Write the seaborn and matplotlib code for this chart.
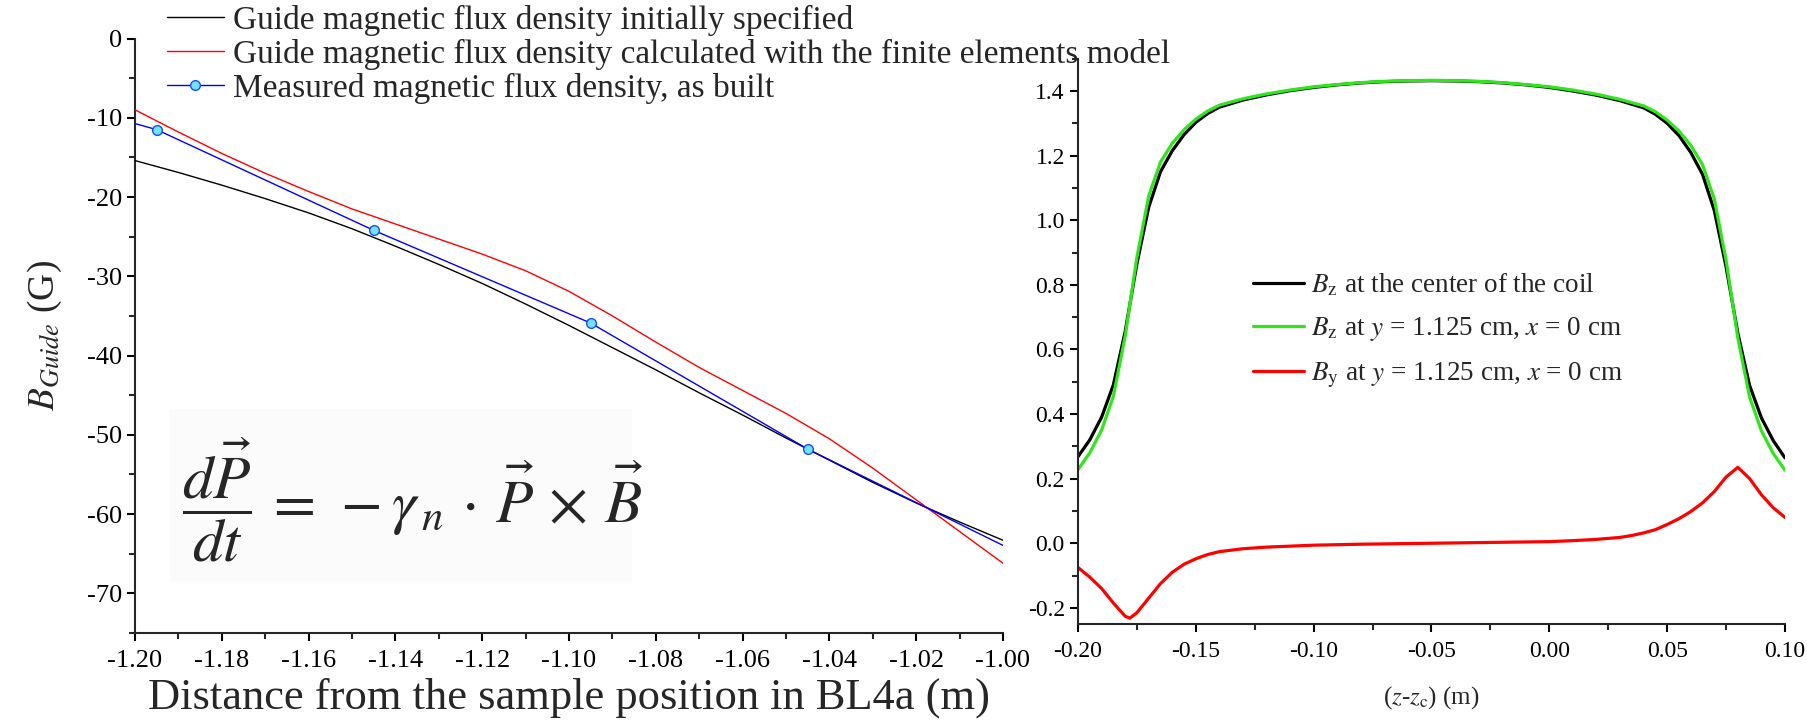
import matplotlib
matplotlib.use("Agg")
import numpy as np
import pandas as pd
import matplotlib.pyplot as plt
import seaborn as sns
from matplotlib.ticker import MultipleLocator, FormatStrFormatter
from matplotlib.patches import Rectangle

# ---- guide field along the beamline (left panel) ----
dist_spec = [-1.20, -1.19, -1.18, -1.17, -1.16, -1.15, -1.14, -1.13, -1.12, -1.11, -1.10,
             -1.09, -1.08, -1.07, -1.06, -1.05, -1.04, -1.03, -1.02, -1.01, -1.00]
b_spec = [-15.4, -16.9, -18.5, -20.2, -22.0, -24.0, -26.2, -28.5, -30.9, -33.5, -36.2,
          -39.0, -41.8, -44.7, -47.5, -50.4, -53.2, -56.0, -58.6, -61.0, -63.3]

dist_fem = [-1.20, -1.19, -1.18, -1.17, -1.16, -1.15, -1.14, -1.13, -1.12, -1.11, -1.10,
            -1.09, -1.08, -1.07, -1.06, -1.05, -1.04, -1.03, -1.02, -1.01, -1.00]
b_fem = [-9.0, -11.8, -14.5, -17.0, -19.3, -21.5, -23.4, -25.3, -27.2, -29.3, -31.9,
         -35.0, -38.3, -41.5, -44.4, -47.3, -50.5, -54.2, -58.2, -62.2, -66.2]

dist_meas = [-1.245, -1.195, -1.145, -1.095, -1.045, -0.995]
b_meas = [-3.8, -11.5, -24.2, -35.9, -51.8, -65.3]

# ---- coil field profile (right panel) ----
z_coil = [-0.200, -0.195, -0.190, -0.185, -0.180, -0.175, -0.170, -0.165, -0.160, -0.155,
          -0.150, -0.145, -0.140, -0.130, -0.120, -0.110, -0.100, -0.090, -0.080, -0.070,
          -0.060, -0.050, -0.040, -0.030, -0.020, -0.010, 0.000, 0.010, 0.020, 0.030,
          0.040, 0.045, 0.050, 0.055, 0.060, 0.065, 0.070, 0.075, 0.080, 0.085,
          0.090, 0.095, 0.100]
bz_center = [0.268, 0.320, 0.390, 0.490, 0.655, 0.865, 1.040, 1.150, 1.215, 1.265,
             1.303, 1.330, 1.350, 1.372, 1.388, 1.401, 1.411, 1.419, 1.425, 1.429,
             1.431, 1.432, 1.431, 1.429, 1.425, 1.419, 1.411, 1.400, 1.387, 1.370,
             1.348, 1.328, 1.300, 1.262, 1.210, 1.142, 1.030, 0.855, 0.650, 0.488,
             0.388, 0.318, 0.264]
bz_offaxis = [0.228, 0.280, 0.350, 0.455, 0.640, 0.885, 1.075, 1.180, 1.238, 1.280,
              1.313, 1.338, 1.356, 1.376, 1.391, 1.403, 1.413, 1.420, 1.426, 1.430,
              1.432, 1.433, 1.432, 1.430, 1.426, 1.420, 1.413, 1.403, 1.390, 1.374,
              1.354, 1.336, 1.310, 1.276, 1.232, 1.172, 1.066, 0.876, 0.635, 0.452,
              0.348, 0.278, 0.226]

z_by = [-0.200, -0.195, -0.190, -0.185, -0.180, -0.178, -0.175, -0.170, -0.165, -0.160,
        -0.155, -0.150, -0.145, -0.140, -0.130, -0.120, -0.100, -0.080, -0.060, -0.040,
        -0.020, 0.000, 0.010, 0.020, 0.030, 0.035, 0.040, 0.045, 0.050, 0.055,
        0.060, 0.065, 0.070, 0.075, 0.080, 0.085, 0.090, 0.095, 0.100]
by_offaxis = [-0.075, -0.105, -0.140, -0.185, -0.226, -0.232, -0.215, -0.170, -0.125, -0.090,
              -0.065, -0.048, -0.035, -0.026, -0.017, -0.012, -0.006, -0.003, -0.001, 0.001,
              0.003, 0.005, 0.008, 0.012, 0.018, 0.024, 0.032, 0.042, 0.058, 0.076,
              0.098, 0.125, 0.160, 0.205, 0.235, 0.200, 0.150, 0.110, 0.080]

sns.set_style("ticks")
plt.rcParams["font.family"] = ["Liberation Serif", "DejaVu Serif"]
plt.rcParams["mathtext.fontset"] = "stix"
plt.rcParams["axes.unicode_minus"] = False
plt.rcParams["axes.linewidth"] = 1.5
plt.rcParams["xtick.major.width"] = 1.5
plt.rcParams["ytick.major.width"] = 1.5
plt.rcParams["xtick.minor.width"] = 1.5
plt.rcParams["ytick.minor.width"] = 1.5

W, H = 1808, 721
fig = plt.figure(figsize=(W / 100, H / 100), dpi=100)

def frac_box(x0, y0, x1, y1):
    return [x0 / W, 1 - y1 / H, (x1 - x0) / W, (y1 - y0) / H]

ax2 = fig.add_axes(frac_box(1078, 58.7, 1785, 624))
ax1 = fig.add_axes(frac_box(135, 38.5, 1003, 633))
ax2.set_facecolor("none")
ax1.set_zorder(2)

# ---------------- left panel ----------------
df_spec = pd.DataFrame({"d": dist_spec, "b": b_spec})
df_fem = pd.DataFrame({"d": dist_fem, "b": b_fem})
df_meas = pd.DataFrame({"d": dist_meas, "b": b_meas})

sns.lineplot(data=df_spec, x="d", y="b", ax=ax1, color="black", lw=1.0,
             label="Guide magnetic flux density initially specified", zorder=3)
sns.lineplot(data=df_fem, x="d", y="b", ax=ax1, color="#ff0000", lw=1.0,
             label="Guide magnetic flux density calculated with the finite elements model", zorder=3)
sns.lineplot(data=df_meas, x="d", y="b", ax=ax1, color="#0000ff", lw=1.0,
             marker="o", markersize=7, markerfacecolor="#6fe3ff", markeredgecolor="#1a4cff",
             markeredgewidth=1.0, label="Measured magnetic flux density, as built", zorder=4)

ax1.set_xlim(-1.20, -1.00)
ax1.set_ylim(-75, 0)
ax1.xaxis.set_major_locator(MultipleLocator(0.02))
ax1.xaxis.set_minor_locator(MultipleLocator(0.01))
ax1.yaxis.set_major_locator(MultipleLocator(10))
ax1.yaxis.set_minor_locator(MultipleLocator(5))
ax1.xaxis.set_major_formatter(FormatStrFormatter("%.2f"))
ax1.yaxis.set_major_formatter(FormatStrFormatter("%d"))
ax1.tick_params(which="major", direction="out", length=6, labelsize=19, colors="black")
ax1.tick_params(which="minor", direction="out", length=4.5)
ax1.tick_params(axis="x", pad=6)
sns.despine(ax=ax1)
ax1.set_xlabel("Distance from the sample position in BL4a (m)", fontsize=32, labelpad=4)
ax1.set_ylabel(r"$B_{Guide}$ (G)", fontsize=27, labelpad=16)

leg1 = ax1.legend(loc="upper left", bbox_to_anchor=(167 / W, 1 - 5 / H), bbox_transform=fig.transFigure,
                  frameon=False, fontsize=24, handlelength=1.7, handletextpad=0.27,
                  labelspacing=0.08, borderpad=0, borderaxespad=0)
leg1.set_zorder(10)

# equation panel
ax1.add_patch(Rectangle((170 / W, 1 - 582 / H), 462 / W, 173 / H, transform=fig.transFigure,
                        facecolor="#fbfbfb", edgecolor="none", zorder=0.5))
fig.text(182 / W, 1 - 500 / H,
         r"$\dfrac{d\vec{P}}{dt}\,=\,-\gamma_{\,n}\,\cdot\,\vec{P}\,\times\,\vec{B}$",
         fontsize=44, ha="left", va="center", zorder=5)

# ---------------- right panel ----------------
df_coil = pd.DataFrame({"z": z_coil, "c": bz_center, "o": bz_offaxis})
df_by = pd.DataFrame({"z": z_by, "y": by_offaxis})

sns.lineplot(data=df_coil, x="z", y="c", ax=ax2, color="black", lw=2.3,
             label=r"$B_\mathrm{z}$ at the center of the coil")
sns.lineplot(data=df_coil, x="z", y="o", ax=ax2, color="#2ee61a", lw=2.3,
             label=r"$B_\mathrm{z}$ at $y$ = 1.125 cm, $x$ = 0 cm")
sns.lineplot(data=df_by, x="z", y="y", ax=ax2, color="#ff0000", lw=2.3,
             label=r"$B_\mathrm{y}$ at $y$ = 1.125 cm, $x$ = 0 cm")

ax2.set_xlim(-0.20, 0.10)
ax2.set_ylim(-0.25, 1.5)
ax2.xaxis.set_major_locator(MultipleLocator(0.05))
ax2.xaxis.set_minor_locator(MultipleLocator(0.025))
ax2.yaxis.set_major_locator(MultipleLocator(0.2))
ax2.yaxis.set_minor_locator(MultipleLocator(0.1))
ax2.xaxis.set_major_formatter(FormatStrFormatter("%.2f"))
ax2.yaxis.set_major_formatter(FormatStrFormatter("%.1f"))
ax2.tick_params(which="major", direction="out", length=6, labelsize=17, colors="black")
ax2.tick_params(which="minor", direction="out", length=4.5)
ax2.tick_params(axis="x", pad=6)
sns.despine(ax=ax2)
ax2.set_xlabel(r"($z$-$z_\mathrm{c}$) (m)", fontsize=18, labelpad=16)
ax2.set_ylabel(r"$B_z$(G)", fontsize=18, labelpad=22)

ax2.legend(loc="upper left", bbox_to_anchor=(1253 / W, 1 - 272 / H), bbox_transform=fig.transFigure,
           frameon=False, fontsize=19.5, handlelength=1.9, handletextpad=0.25,
           labelspacing=0.62, borderpad=0, borderaxespad=0)

fig.savefig("out.png", dpi=100, facecolor="white")
